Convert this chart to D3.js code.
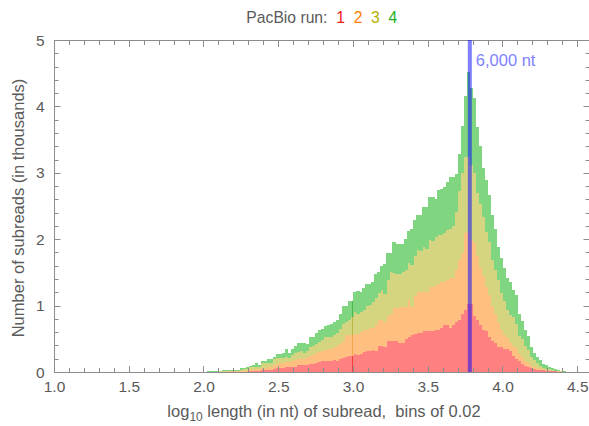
<!DOCTYPE html>
<html><head><meta charset="utf-8">
<script src="https://cdn.jsdelivr.net/npm/d3@7/dist/d3.min.js"></script>
<style>
body{margin:0;background:#fff}
svg{display:block}
text{font-family:"Liberation Sans",Arial,Helvetica,sans-serif}
</style>
</head><body>
<svg id="chart" width="589" height="426"></svg>
<script>
// ---- data (thousands of subreads per bin of 0.02 in log10 length) ----
const binStart = 2.0;
const binWidth = 0.02;
const run1 = [0,0,0,0,0,0,0,0,0.005,0.005,0.005,0.005,0.005,0.005,0.005,0.02,0.02,0.02,0.02,0.03,
  0.03,0.03,0.03,0.05,0.055,0.055,0.055,0.07,0.07,0.08,0.08,0.105,0.10,0.10,0.11,0.12,0.12,0.14,0.15,0.16,
  0.16,0.17,0.17,0.18,0.17,0.20,0.21,0.23,0.24,0.24,0.27,0.26,0.27,0.30,0.31,0.31,0.33,0.31,0.39,0.39,
  0.38,0.46,0.46,0.47,0.47,0.44,0.44,0.49,0.53,0.56,0.57,0.58,0.58,0.61,0.61,0.62,0.62,0.63,0.63,0.66,
  0.71,0.71,0.67,0.71,0.76,0.78,0.87,0.94,1.02,1.02,0.85,0.78,0.71,0.64,0.61,0.53,0.46,0.43,0.38,0.38,
  0.34,0.34,0.31,0.24,0.19,0.16,0.12,0.09,0.075,0.06,0.045,0.035,0.03,0.025,0.02,0.015,0.01,0.008,0.005,0.004,
  0.002,0.001];
const run2 = [0,0,0,0.003,0.003,0.005,0.005,0.005,0.003,0.003,0.005,0.005,0.01,0.01,0.01,0.01,0.01,0.02,0.02,0.035,
  0.035,0.05,0.05,0.055,0.065,0.075,0.075,0.075,0.075,0.09,0.10,0.085,0.10,0.10,0.11,0.12,0.14,0.15,0.15,0.16,
  0.17,0.17,0.17,0.19,0.22,0.22,0.25,0.33,0.32,0.32,0.30,0.31,0.33,0.33,0.33,0.35,0.34,0.42,0.39,0.39,
  0.38,0.39,0.42,0.49,0.49,0.54,0.54,0.49,0.55,0.42,0.57,0.63,0.63,0.61,0.60,0.66,0.66,0.68,0.70,0.69,
  0.65,0.68,0.74,0.71,0.78,0.90,0.92,1.15,1.09,0.97,1.09,0.96,0.85,0.80,0.67,0.63,0.53,0.45,0.38,0.25,
  0.22,0.17,0.12,0.15,0.17,0.11,0.10,0.08,0.055,0.03,0.025,0.02,0.01,0.005,0.005,0.005,0.005,0.004,0.003,0.002,
  0.002,0.001];
const run3 = [0,0.003,0.003,0.002,0.002,0.005,0.005,0.005,0.002,0.002,0.01,0.01,0.015,0.025,0.035,0.04,0.05,0.04,0.04,0.065,
  0.065,0.06,0.06,0.085,0.09,0.08,0.08,0.075,0.065,0.09,0.10,0.11,0.11,0.08,0.10,0.13,0.13,0.13,0.15,0.16,
  0.19,0.18,0.18,0.18,0.19,0.23,0.26,0.20,0.23,0.27,0.33,0.30,0.31,0.31,0.35,0.35,0.39,0.39,0.41,0.45,
  0.41,0.54,0.62,0.53,0.51,0.49,0.52,0.56,0.56,0.63,0.61,0.63,0.61,0.66,0.64,0.71,0.69,0.72,0.73,0.71,
  0.74,0.75,0.74,0.78,0.87,1.04,1.20,1.15,1.13,1.13,1.05,0.95,0.97,0.89,0.83,0.80,0.70,0.66,0.63,0.56,
  0.51,0.42,0.43,0.44,0.37,0.27,0.27,0.22,0.20,0.14,0.11,0.075,0.05,0.03,0.025,0.02,0.015,0.008,0.007,0.004,
  0.002,0.002];
const run4 = [0.005,0.007,0.007,0.005,0.005,0.005,0.015,0.015,0.015,0.015,0.015,0.015,0.025,0.025,0.03,0.025,0.025,0.05,0.025,0.035,
  0.035,0.05,0.06,0.04,0.06,0.06,0.07,0.13,0.07,0.09,0.11,0.13,0.12,0.15,0.10,0.15,0.13,0.17,0.18,0.17,
  0.18,0.19,0.21,0.21,0.20,0.22,0.27,0.23,0.28,0.24,0.31,0.35,0.29,0.32,0.34,0.32,0.29,0.35,0.32,0.36,
  0.46,0.40,0.29,0.47,0.46,0.46,0.43,0.47,0.48,0.54,0.54,0.52,0.54,0.60,0.63,0.65,0.67,0.57,0.68,0.70,
  0.69,0.72,0.78,0.74,0.57,0.56,0.72,0.92,1.28,1.15,1.13,1.00,0.87,0.74,0.78,0.71,0.67,0.62,0.50,0.52,
  0.49,0.48,0.50,0.40,0.43,0.34,0.28,0.24,0.21,0.15,0.11,0.10,0.09,0.06,0.05,0.04,0.03,0.025,0.015,0.01,
  0.006,0.002];
const runKeys = ["1", "2", "3", "4"];
const fillColors = ["#ff8080", "#ffbf80", "#d5d480", "#80d580"];
const edgeColors = ["#f03030", "#f0a040", "#b0ae30", "#40b040"];
const legendColors = ["#f02020", "#ff8000", "#b3b000", "#20b020"];
const xMajorTicks = [1.0, 1.5, 2.0, 2.5, 3.0, 3.5, 4.0, 4.5];
const yMajorTicks = [0, 1, 2, 3, 4, 5];
const markerLength = 6000;
const markerLabel = "6,000 nt";
const edgeAt = 3.0;

// ---- build table ----
const table = run1.map((v, i) => ({
  x0: binStart + i * binWidth,
  "1": run1[i], "2": run2[i], "3": run3[i], "4": run4[i]
}));
const stacked = d3.stack().keys(runKeys)(table);

const svg = d3.select("#chart");
const L = 54.5, R = 588.2, T = 40, B = 372;
const x = d3.scaleLinear().domain([1, 4.57]).range([L, R]);
const y = d3.scaleLinear().domain([0, 5]).range([B, T]);

// ---- bars ----
const layers = svg.append("g").selectAll("g").data(stacked).join("g")
  .attr("fill", (d, i) => fillColors[i]);
layers.selectAll("rect").data(d => d).join("rect")
  .attr("x", d => x(d.data.x0))
  .attr("width", d => x(d.data.x0 + binWidth) - x(d.data.x0) + 0.3)
  .attr("y", d => y(d[1]))
  .attr("height", d => Math.max(0, y(d[0]) - y(d[1])))
  .attr("shape-rendering", "crispEdges");

// thin bar edge visible at log10 = 3.0
const edgeIdx = Math.round((edgeAt - binWidth - binStart) / binWidth);
const ex = Math.round(x(edgeAt)) - 0.5;
stacked.forEach((s, i) => {
  const seg = s[edgeIdx];
  svg.append("line").attr("x1", ex).attr("x2", ex)
    .attr("y1", y(seg[1])).attr("y2", y(seg[0]))
    .attr("stroke", edgeColors[i]).attr("stroke-width", 1).attr("stroke-opacity", 0.8);
});

// ---- frame ----
const frameColor = "#8c8c8c";
const textColor = "#5a5a5a";
const fl = Math.floor(L) + 0.5;
const fr = svg.append("g").attr("stroke", frameColor).attr("stroke-width", 1).attr("fill", "none");
fr.append("line").attr("x1", fl).attr("x2", 590).attr("y1", B + 0.5).attr("y2", B + 0.5);
fr.append("line").attr("x1", fl).attr("x2", 590).attr("y1", T + 0.5).attr("y2", T + 0.5);
fr.append("line").attr("x1", fl).attr("x2", fl).attr("y1", T).attr("y2", B + 1);
fr.append("line").attr("x1", 589.5).attr("x2", 589.5).attr("y1", T).attr("y2", B + 1);

// ticks
const xMinor = d3.range(10, 46).map(k => k / 10);
const yMinor = d3.range(0, 26).map(k => k / 5);
const isMajorX = v => xMajorTicks.some(t => Math.abs(t - v) < 1e-6);
const isMajorY = v => yMajorTicks.some(t => Math.abs(t - v) < 1e-6);
xMinor.forEach(v => {
  const len = isMajorX(v) ? 6 : 4;
  const px = Math.floor(x(v)) + 0.5;
  fr.append("line").attr("x1", px).attr("x2", px).attr("y1", B).attr("y2", B - len);
  fr.append("line").attr("x1", px).attr("x2", px).attr("y1", T + 1).attr("y2", T + 1 + len);
});
yMinor.forEach(v => {
  const len = isMajorY(v) ? 6 : 4;
  const py = Math.round(y(v)) + 0.5;
  fr.append("line").attr("x1", fl).attr("x2", fl + len).attr("y1", py).attr("y2", py);
  fr.append("line").attr("x1", 589.5).attr("x2", 589.5 - len).attr("y1", py).attr("y2", py);
});

// tick labels
svg.append("g").selectAll("text").data(xMajorTicks).join("text")
  .attr("x", d => x(d)).attr("y", 392)
  .attr("text-anchor", "middle").attr("font-size", 15.5).attr("fill", textColor)
  .text(d => d.toFixed(1));
svg.append("g").selectAll("text").data(yMajorTicks).join("text")
  .attr("x", 44.5).attr("y", d => y(d) + 5.5)
  .attr("text-anchor", "end").attr("font-size", 15.5).attr("fill", textColor)
  .text(d => d);

// ---- 6,000 nt marker ----
const mx = x(Math.log10(markerLength));
svg.append("line").attr("x1", mx).attr("x2", mx).attr("y1", T).attr("y2", B)
  .attr("stroke", "#0000ff").attr("stroke-opacity", 0.5).attr("stroke-width", 4);
svg.append("text").attr("x", mx + 6).attr("y", 66)
  .attr("font-size", 16.5).attr("fill", "#7f7fff").text(markerLabel);

// ---- axis titles ----
const xt = svg.append("text").attr("x", 324).attr("y", 417)
  .attr("text-anchor", "middle").attr("font-size", 16.5).attr("fill", textColor);
xt.append("tspan").text("log");
xt.append("tspan").attr("font-size", 12).attr("dy", 4).text("10");
xt.append("tspan").attr("dy", -4).text(" length (in nt) of subread,\u00a0 bins of 0.02");

svg.append("text").attr("transform", "translate(24," + ((T + B) / 2 + 2) + ") rotate(-90)")
  .attr("text-anchor", "middle").attr("font-size", 16.5).attr("fill", textColor)
  .text("Number of subreads (in thousands)");

// ---- title / legend ----
const tt = svg.append("text").attr("x", 324).attr("y", 23)
  .attr("text-anchor", "middle").attr("font-size", 15.7).attr("fill", textColor);
tt.append("tspan").text("PacBio run:\u00a0");
runKeys.forEach((k, i) => {
  tt.append("tspan").attr("fill", legendColors[i]).text("\u00a0" + k + "\u00a0");
});
</script>
</body></html>
